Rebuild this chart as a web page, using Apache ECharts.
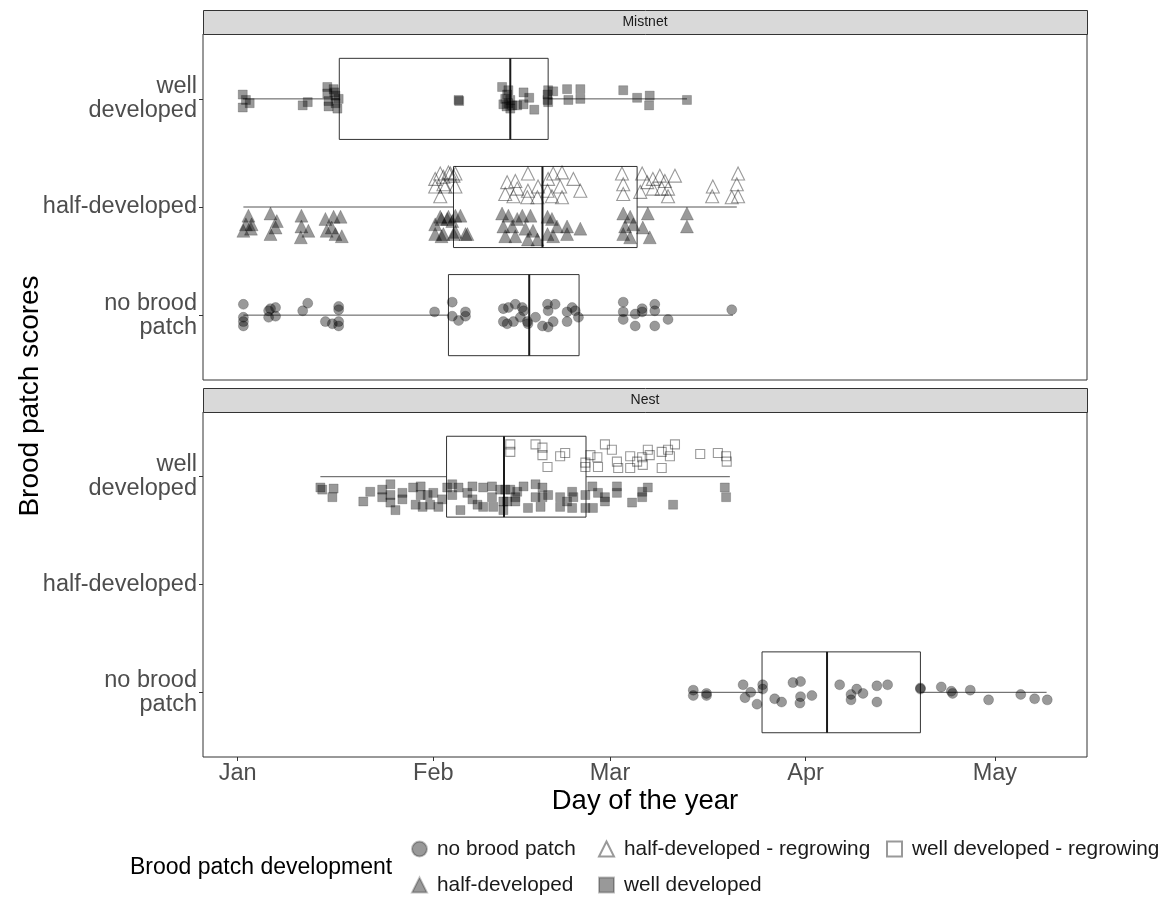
<!DOCTYPE html>
<html>
<head>
<meta charset="utf-8">
<script src="https://cdn.jsdelivr.net/npm/echarts@6/dist/echarts.min.js"></script>
<style>html,body{margin:0;padding:0;background:#fff;}#chart{width:1170px;height:899px;}</style>
</head>
<body>
<div id="chart"></div>
<script>
// ---------- data ----------
const panelNames = ['Mistnet', 'Nest'];
const dayTicks = [1, 32, 60, 91, 121];
const monthLabels = ['Jan', 'Feb', 'Mar', 'Apr', 'May'];
const scoreLevels = [1, 2, 3];
const scoreLabels = ['no brood\npatch', 'half-developed', 'well\ndeveloped'];
const legendNames = ['no brood patch', 'half-developed', 'half-developed - regrowing', 'well developed', 'well developed - regrowing'];

// box stats: [score, min, q1, median, q3, max] (day of year)
const mistnetBoxes = [
  [3, 1.8, 17.1, 44.2, 50.2, 72.2],
  [2, 1.9, 35.2, 49.3, 64.3, 80.1],
  [1, 1.9, 34.4, 47.2, 55.1, 79.5]
];
const nestBoxes = [
  [3, 14.1, 34.1, 43.2, 56.2, 79.0],
  [1, 72.7, 84.1, 94.4, 109.2, 129.2]
];

// points: [day of year, jittered score]
const mistnetWell = [
  [1.8,3.04],[2.3,2.99],[2.9,2.96],[1.8,2.92],[11.3,2.94],[12.1,2.97],
  [15.2,3.11],[16.2,3.09],[15.2,3.05],[16.5,3.03],[15.4,2.98],[16.5,2.96],[15.4,2.93],[16.8,2.91],[16.3,3.06],[17.0,3.00],
  [36.0,2.99],[36.1,2.98],
  [42.9,3.11],[43.9,3.08],[44.2,2.99],[43.1,2.95],[44.2,2.91],[45.3,2.94],[46.3,3.06],[47.2,3.01],[46.3,2.95],[48.0,2.90],
  [43.7,3.04],[44.5,2.94],[43.4,3.00],[43.9,2.96],[43.6,2.93],
  [50.1,2.99],[50.2,3.08],[51.0,3.07],[50.1,3.04],[50.2,2.97],
  [53.2,3.09],[53.4,2.99],[55.3,3.09],[55.3,3.00],
  [62.1,3.08],[64.3,3.01],[66.3,3.03],[66.2,2.94],[72.2,2.99]
];
const mistnetHalf = [
  [2.7,1.92],[2.3,1.84],[3.2,1.84],[1.9,1.78],[3.1,1.80],
  [6.2,1.94],[7.2,1.87],[7.0,1.81],[6.2,1.75],
  [11.1,1.92],[11.1,1.82],[12.2,1.78],[11.0,1.72],
  [14.9,1.89],[16.2,1.91],[17.3,1.91],[15.1,1.78],[16.5,1.75],[17.5,1.73],[15.9,1.81],
  [32.3,1.84],[33.3,1.89],[34.4,1.91],[35.5,1.92],[36.3,1.92],[32.3,1.75],[33.3,1.73],[35.5,1.77],[37.1,1.75],
  [33.1,1.91],[34.2,1.89],[35.0,1.87],[33.6,1.75],[35.2,1.75],[37.4,1.75],
  [42.9,1.94],[43.9,1.92],[45.3,1.89],[43.1,1.82],[44.5,1.82],[46.1,1.92],[47.4,1.92],[46.6,1.80],[47.8,1.78],
  [43.4,1.73],[45.0,1.73],[47.0,1.70],[48.5,1.70],
  [50.1,1.91],[50.8,1.89],[51.6,1.82],[53.2,1.82],[55.3,1.80],[50.1,1.75],[51.0,1.73],[53.2,1.75],
  [62.1,1.94],[63.2,1.91],[62.4,1.82],[63.7,1.84],[62.1,1.75],[63.2,1.72],[65.2,1.81],[66.3,1.72],[66.0,1.94],
  [72.2,1.94],[72.2,1.82]
];
const mistnetHalfRegrowing = [
  [32.3,2.26],[33.6,2.28],[34.7,2.31],[35.5,2.31],[32.3,2.19],[33.9,2.19],[35.5,2.19],[33.1,2.10],
  [34.4,2.32],[35.2,2.29],[33.1,2.31],[33.6,2.21],
  [43.7,2.23],[45.0,2.24],[45.3,2.17],[43.4,2.12],[44.7,2.10],[47.0,2.31],[47.0,2.15],[46.9,2.09],[48.6,2.19],[48.5,2.09],
  [50.2,2.26],[51.0,2.31],[52.4,2.32],[54.2,2.26],[52.1,2.19],[50.1,2.15],[52.4,2.09],[50.8,2.10],[55.3,2.15],
  [61.9,2.31],[62.1,2.21],[62.1,2.12],[65.1,2.31],[65.9,2.23],[66.8,2.26],[67.9,2.29],[68.7,2.24],[69.2,2.17],
  [70.3,2.29],[66.8,2.17],[68.2,2.17],[64.8,2.14],[69.2,2.10],
  [76.3,2.19],[76.2,2.10],[80.3,2.31],[80.1,2.21],[80.3,2.10],[79.3,2.09]
];
const mistnetNone = [
  [1.9,1.10],[1.9,0.98],[1.9,0.94],[1.9,0.90],[5.9,1.04],[6.2,1.06],[7.0,1.07],[5.9,0.98],[7.0,0.99],
  [11.3,1.04],[12.1,1.11],[17.0,1.08],[17.0,1.05],[14.9,0.94],[16.0,0.92],[17.0,0.90],[17.0,0.94],
  [32.2,1.03],[35.0,1.12],[35.0,0.99],[36.0,0.95],[37.1,1.03],[37.1,0.99],
  [43.1,1.06],[43.9,1.07],[45.0,1.10],[46.1,1.07],[46.3,1.04],[43.1,0.94],[43.7,0.92],[44.7,0.94],[45.8,0.98],
  [46.9,0.94],[47.0,0.92],[48.2,0.98],[49.3,0.90],[50.1,1.10],[50.2,1.04],[50.2,0.89],[51.3,1.10],[51.0,0.94],
  [53.2,0.94],[53.2,1.03],[54.0,1.07],[54.5,1.04],[55.0,0.98],
  [62.1,1.12],[62.1,1.03],[62.1,0.96],[64.0,1.01],[64.0,0.90],[65.1,1.06],[65.1,1.03],[67.1,1.10],[67.1,1.04],
  [67.1,0.90],[69.2,0.96],[79.3,1.05]
];
const nestWell = [
  [14.1,2.90],[14.4,2.88],[16.2,2.89],[16.0,2.81],[20.9,2.77],[22.0,2.86],
  [23.9,2.88],[25.2,2.93],[25.2,2.83],[23.9,2.81],[25.2,2.76],[26.0,2.69],[27.1,2.85],[27.1,2.79],
  [28.8,2.90],[30.0,2.91],[30.0,2.83],[29.2,2.74],[30.3,2.72],[31.1,2.83],[32.0,2.85],[31.5,2.74],[32.8,2.72],[33.4,2.79],
  [34.2,2.90],[35.0,2.93],[36.0,2.90],[35.0,2.83],[36.3,2.69],[37.4,2.85],[38.2,2.91],[38.2,2.79],[39.0,2.74],
  [39.9,2.90],[39.9,2.72],[41.3,2.91],[41.3,2.81],[41.5,2.72],[42.6,2.88],[43.1,2.77],[43.1,2.69],
  [44.2,2.88],[45.0,2.81],[46.3,2.91],[43.4,2.88],[43.7,2.77],[45.3,2.86],[45.0,2.77],[47.0,2.71],
  [48.2,2.93],[49.3,2.90],[48.2,2.81],[49.3,2.81],[49.0,2.72],[50.2,2.83],[52.1,2.81],[52.1,2.72],[53.2,2.77],
  [54.0,2.86],[54.2,2.81],[54.0,2.71],[56.1,2.83],[56.1,2.71],[57.3,2.71],[57.2,2.91],[58.1,2.85],
  [59.2,2.81],[59.2,2.77],[61.1,2.91],[61.1,2.85],[63.5,2.76],[65.1,2.86],[65.1,2.81],[66.0,2.90],
  [70.0,2.74],[78.2,2.90],[78.4,2.81]
];
const nestWellRegrowing = [
  [44.2,3.30],[44.2,3.23],[48.2,3.30],[49.3,3.27],[49.3,3.20],[50.1,3.09],[52.1,3.19],[52.9,3.22],
  [56.1,3.09],[56.1,3.13],[56.9,3.20],[58.0,3.18],[58.1,3.09],[59.2,3.30],[60.3,3.25],[61.1,3.14],[61.3,3.08],
  [63.2,3.19],[63.2,3.08],[64.3,3.14],[65.1,3.18],[65.2,3.11],[66.0,3.25],[66.3,3.20],[68.2,3.08],[68.2,3.23],
  [69.2,3.25],[69.5,3.19],[70.3,3.30],[74.3,3.21],[77.1,3.22],[78.4,3.19],[78.5,3.14]
];
const nestNone = [
  [73.2,1.02],[73.2,0.97],[75.3,0.99],[75.3,0.97],[81.1,1.07],[81.4,0.95],[82.3,1.00],[83.3,0.89],
  [84.2,1.07],[84.2,1.03],[86.1,0.94],[87.2,0.91],[89.0,1.09],[90.2,1.10],[90.2,0.96],[90.1,0.90],[92.0,0.97],
  [96.4,1.07],[98.2,0.98],[99.1,1.03],[100.1,0.99],[98.2,0.93],[102.3,1.06],[102.3,0.91],[104.0,1.07],
  [109.2,1.04],[109.2,1.03],[112.5,1.05],[114.1,1.01],[114.3,0.99],[117.1,1.02],[120.0,0.93],
  [125.1,0.98],[127.3,0.94],[129.3,0.93]
];

// ---------- chart ----------
const FONT = 'Liberation Sans, Arial, sans-serif';
const chart = echarts.init(document.getElementById('chart'), null, {renderer: 'canvas'});

const filled = {color: 'rgba(0,0,0,0.5)', borderColor: 'rgba(0,0,0,0.3)', borderWidth: 0.8};
const hollow = {color: 'rgba(0,0,0,0)', borderColor: 'rgba(0,0,0,0.5)', borderWidth: 1.1};

function renderBox(params, api) {
  const cat = api.value(0);
  const lo = api.coord([api.value(1), cat]);
  const q1 = api.coord([api.value(2), cat]);
  const md = api.coord([api.value(3), cat]);
  const q3 = api.coord([api.value(4), cat]);
  const hi = api.coord([api.value(5), cat]);
  const h = api.size([0, 0.375])[1];
  return {
    type: 'group',
    children: [
      {type: 'line', shape: {x1: lo[0], y1: lo[1], x2: q1[0], y2: q1[1]}, style: {stroke: '#555', lineWidth: 1}},
      {type: 'line', shape: {x1: q3[0], y1: q3[1], x2: hi[0], y2: hi[1]}, style: {stroke: '#555', lineWidth: 1}},
      {type: 'rect', shape: {x: q1[0], y: q1[1] - h, width: q3[0] - q1[0], height: 2 * h},
        style: {fill: 'rgba(0,0,0,0)', stroke: '#333', lineWidth: 1}},
      {type: 'line', shape: {x1: md[0], y1: md[1] - h, x2: md[0], y2: md[1] + h}, style: {stroke: '#1a1a1a', lineWidth: 2}}
    ]
  };
}

function xAxisFor(i, showLabels) {
  return {
    type: 'value', gridIndex: i, min: -4.5, max: 135.6,
    splitLine: {show: false}, axisLine: {show: false, onZero: false},
    axisTick: {show: showLabels, customValues: dayTicks, length: 4, lineStyle: {color: '#333'}},
    axisLabel: {show: showLabels, customValues: dayTicks, margin: 5, color: '#4d4d4d', fontSize: 23.5, fontFamily: FONT,
      formatter: v => monthLabels[dayTicks.indexOf(v)] || ''},
    name: showLabels ? 'Day of the year' : '', nameLocation: 'middle', nameGap: 30,
    nameTextStyle: {fontSize: 27.5, color: '#000', fontFamily: FONT}
  };
}
function yAxisFor(i) {
  return {
    type: 'value', gridIndex: i, min: 0.4, max: 3.6,
    splitLine: {show: false}, axisLine: {show: false, onZero: false},
    axisTick: {show: true, customValues: scoreLevels, length: 4, lineStyle: {color: '#333'}},
    axisLabel: {show: true, customValues: scoreLevels, margin: 6, color: '#4d4d4d', fontSize: 23.5, lineHeight: 24,
      fontFamily: FONT, align: 'right', formatter: v => scoreLabels[scoreLevels.indexOf(v)] || ''}
  };
}

function scatter(name, data, idx, symbol, size, style) {
  return {type: 'scatter', name: name, data: data, xAxisIndex: idx, yAxisIndex: idx, symbol: symbol,
    symbolSize: size, itemStyle: style, z: 3, silent: true};
}

function legendCol(left, names) {
  return {
    orient: 'vertical', left: left, top: 838, height: 60, padding: 0,
    itemWidth: 15, itemHeight: 15, itemGap: 14,
    data: names, selectedMode: false,
    textStyle: {fontSize: 20.8, color: '#1a1a1a', fontFamily: FONT, lineHeight: 22, padding: [0, 0, 0, 5]}
  };
}

const option = {
  backgroundColor: '#fff',
  animation: false,
  grid: [
    {left: 203, top: 34, width: 884, height: 346, show: true, borderColor: '#333', borderWidth: 1, backgroundColor: '#fff'},
    {left: 203, top: 412, width: 884, height: 345, show: true, borderColor: '#333', borderWidth: 1, backgroundColor: '#fff'}
  ],
  xAxis: [xAxisFor(0, false), xAxisFor(1, true)],
  yAxis: [yAxisFor(0), yAxisFor(1)],
  legend: [
    legendCol(411, [legendNames[0], legendNames[1]]),
    legendCol(598, [legendNames[2], legendNames[3]]),
    legendCol(886, [legendNames[4]])
  ],
  graphic: [
    {type: 'rect', left: 203, top: 10, shape: {width: 884, height: 24}, style: {fill: '#d9d9d9', stroke: '#333', lineWidth: 1}},
    {type: 'text', x: 645, y: 22, style: {text: panelNames[0], fontSize: 14, fontFamily: FONT, fill: '#1a1a1a', align: 'center', verticalAlign: 'middle'}},
    {type: 'rect', left: 203, top: 388, shape: {width: 884, height: 24}, style: {fill: '#d9d9d9', stroke: '#333', lineWidth: 1}},
    {type: 'text', x: 645, y: 400, style: {text: panelNames[1], fontSize: 14, fontFamily: FONT, fill: '#1a1a1a', align: 'center', verticalAlign: 'middle'}},
    {type: 'text', x: 30, y: 396, rotation: Math.PI / 2, style: {text: 'Brood patch scores', fontSize: 28, fontFamily: FONT, fill: '#000', align: 'center', verticalAlign: 'middle'}},
    {type: 'text', x: 130, y: 868, style: {text: 'Brood patch development', fontSize: 23, fontFamily: FONT, fill: '#000', align: 'left', verticalAlign: 'middle'}}
  ],
  series: [
    {type: 'custom', name: 'box-mistnet', xAxisIndex: 0, yAxisIndex: 0, data: mistnetBoxes, renderItem: renderBox,
      encode: {x: [1, 2, 3, 4, 5], y: 0}, z: 1, silent: true},
    {type: 'custom', name: 'box-nest', xAxisIndex: 1, yAxisIndex: 1, data: nestBoxes, renderItem: renderBox,
      encode: {x: [1, 2, 3, 4, 5], y: 0}, z: 1, silent: true},
    scatter(legendNames[0], mistnetNone, 0, 'circle', 10, filled),
    scatter(legendNames[1], mistnetHalf, 0, 'triangle', 13, filled),
    scatter(legendNames[2], mistnetHalfRegrowing, 0, 'triangle', 13, hollow),
    scatter(legendNames[3], mistnetWell, 0, 'rect', 9, filled),
    scatter(legendNames[0], nestNone, 1, 'circle', 10, filled),
    scatter(legendNames[3], nestWell, 1, 'rect', 9, filled),
    scatter(legendNames[4], nestWellRegrowing, 1, 'rect', 9, hollow)
  ]
};
chart.setOption(option);
</script>
</body>
</html>
